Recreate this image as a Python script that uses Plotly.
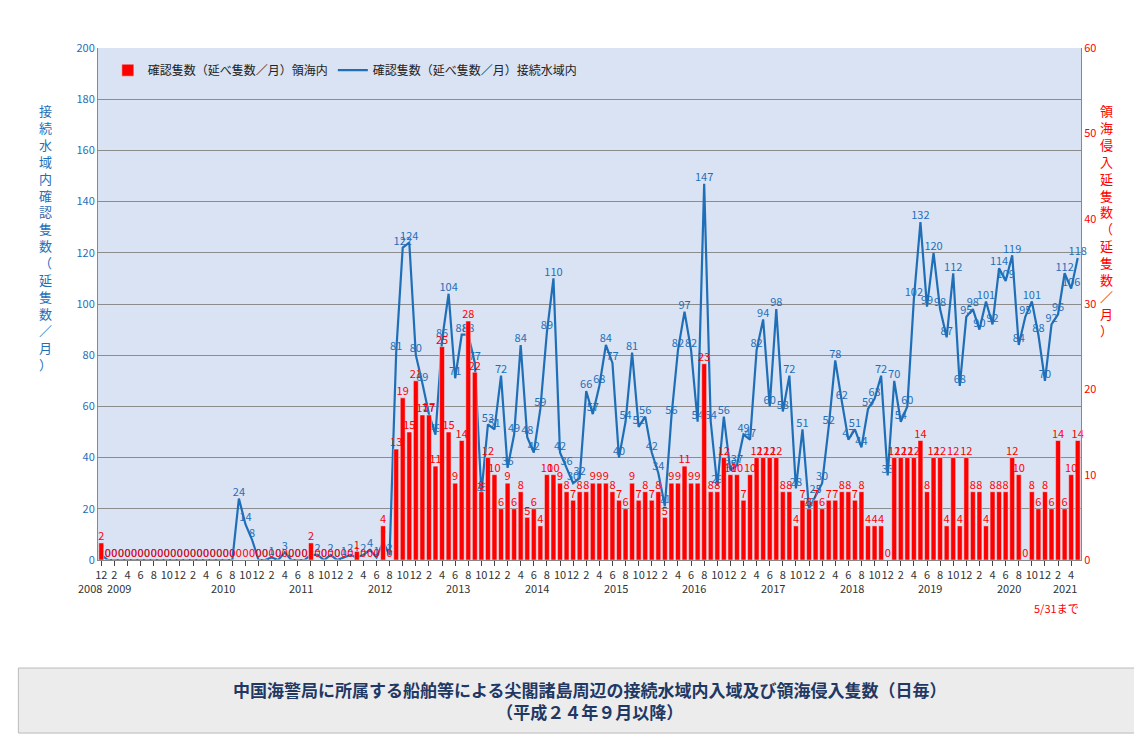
import plotly.graph_objects as go

# months from 2008-12 to 2021-05
years = list(range(2009, 2022))

contig = (
    [2]  # 2008-12
    + [0, 0, 0, 0, 0, 0, 0, 0, 0, 0, 0, 0]  # 2009
    + [0, 0, 0, 0, 0, 0, 0, 0, 24, 14, 8, 0]  # 2010
    + [0, 1, 0, 3, 0, 0, 0, 2, 2, 0, 2, 0]  # 2011
    + [1, 2, 1, 2, 4, 1, 7, 2, 81, 122, 124, 80]  # 2012
    + [69, 57, 49, 86, 104, 71, 88, 88, 77, 26, 53, 51]  # 2013
    + [72, 36, 49, 84, 48, 42, 59, 89, 110, 42, 36, 30]  # 2014
    + [32, 66, 57, 68, 84, 77, 40, 54, 81, 52, 56, 42]  # 2015
    + [34, 21, 56, 82, 97, 82, 54, 147, 54, 29, 56, 35]  # 2016
    + [37, 49, 47, 82, 94, 60, 98, 58, 72, 28, 51, 20]  # 2017
    + [25, 30, 52, 78, 62, 47, 51, 44, 59, 63, 72, 33]  # 2018
    + [70, 54, 60, 102, 132, 99, 120, 98, 87, 112, 68, 95]  # 2019
    + [98, 90, 101, 92, 114, 109, 119, 84, 95, 101, 88, 70]  # 2020
    + [92, 96, 112, 106, 118]  # 2021
)

territ = (
    [2]
    + [0, 0, 0, 0, 0, 0, 0, 0, 0, 0, 0, 0]
    + [0, 0, 0, 0, 0, 0, 0, 0, 0, 0, 0, 0]
    + [0, 0, 0, 0, 0, 0, 0, 2, 0, 0, 0, 0]
    + [0, 0, 1, 0, 0, 0, 4, 0, 13, 19, 15, 21]
    + [17, 17, 11, 25, 15, 9, 14, 28, 22, 8, 12, 10]
    + [6, 9, 6, 8, 5, 6, 4, 10, 10, 9, 8, 7]
    + [8, 8, 9, 9, 9, 8, 7, 6, 9, 7, 8, 7]
    + [8, 5, 9, 9, 11, 9, 9, 23, 8, 8, 12, 10]
    + [10, 7, 10, 12, 12, 12, 12, 8, 8, 4, 7, 6]
    + [7, 6, 7, 7, 8, 8, 7, 8, 4, 4, 4, 0]
    + [12, 12, 12, 12, 14, 8, 12, 12, 4, 12, 4, 12]
    + [8, 8, 4, 8, 8, 8, 12, 10, 0, 8, 6, 8]
    + [6, 14, 6, 10, 14]
)

month_no = [12] + [m for y in years for m in range(1, 13)][: len(contig) - 1]
x = list(range(len(contig)))

blue = "#1f6fb8"
red = "#ff0000"

fig = go.Figure()
fig.add_trace(go.Bar(
    x=x, y=territ, yaxis="y2", name="確認隻数（延べ隻数／月）領海内",
    marker_color=red, width=0.75,
))
# red value labels above the bars
fig.add_trace(go.Scatter(
    x=x, y=territ, yaxis="y2", mode="text", showlegend=False,
    text=[str(v) for v in territ], textposition="top center",
    textfont=dict(color=red, size=11), cliponaxis=False,
))
fig.add_trace(go.Scatter(
    x=x, y=contig, name="確認隻数（延べ隻数／月）接続水域内", mode="lines+text",
    line=dict(color=blue, width=2.2),
    text=[str(v) for v in contig], textposition="top center",
    textfont=dict(color=blue, size=11), cliponaxis=False,
))

tickvals = [i for i in x if i % 2 == 0]
ticktext = [str(month_no[i]) for i in tickvals]

fig.update_layout(
    width=1142, height=734,
    margin=dict(l=90, r=69, t=40, b=182),
    paper_bgcolor="white", plot_bgcolor="#dae3f3",
    font=dict(family="Noto Sans CJK JP, sans-serif", size=11, color="#333"),
    bargap=0.2,
    legend=dict(orientation="h", x=0.01, y=0.985, bgcolor="rgba(0,0,0,0)",
                font=dict(size=12, color="#222")),
    xaxis=dict(range=[-0.5, len(x) - 0.5], tickvals=tickvals, ticktext=ticktext,
               tickangle=0, showgrid=False, showline=True, linecolor="#888",
               ticks="outside", tickfont=dict(size=11, color="#333")),
    yaxis=dict(range=[0, 200], dtick=20, gridcolor="#8c8c8c", gridwidth=1,
               tickfont=dict(color=blue, size=11), showline=True, linecolor="#888",
               zeroline=False),
    yaxis2=dict(range=[0, 60], dtick=10, overlaying="y", side="right",
                showgrid=False, tickfont=dict(color=red, size=11),
                showline=True, linecolor="#888", zeroline=False),
)

# year labels under the month ticks
year_y = -0.035
fig.add_annotation(x=0.4, y=year_y, xref="x", yref="paper", text="2008", xanchor="right",
                   yanchor="top", showarrow=False, font=dict(size=11, color="#333"))
for k, yr in enumerate(years):
    if yr == 2009:
        pos, anchor = 0.6, "left"
    elif yr == 2021:
        pos, anchor = 1 + 12 * k + 2, "center"
    else:
        pos, anchor = 1 + 12 * k + 5.5, "center"
    fig.add_annotation(x=pos, y=year_y, xref="x", yref="paper", text=str(yr), xanchor=anchor,
                       yanchor="top", showarrow=False, font=dict(size=11, color="#333"))

fig.add_annotation(x=1.0, y=-0.075, xref="paper", yref="paper", text="5/31まで",
                   showarrow=False, xanchor="right", yanchor="top", font=dict(size=11, color=red))

left_title = "<br>".join("接続水域内確認隻数（延隻数／月）")
right_title = "<br>".join("領海侵入延隻数（延隻数／月）")
fig.add_annotation(x=-0.062, y=0.9, xref="paper", yref="paper", text=left_title,
                   showarrow=False, yanchor="top", font=dict(size=13, color=blue))
fig.add_annotation(x=1.035, y=0.9, xref="paper", yref="paper", text=right_title,
                   showarrow=False, yanchor="top", font=dict(size=13, color=red))

# caption box
fig.add_shape(type="rect", xref="paper", yref="paper", x0=-0.081, x1=1.058,
              y0=-0.338, y1=-0.211, fillcolor="#ececec", line=dict(color="#bbbbbb", width=1))
fig.add_annotation(x=0.5, y=-0.274, xref="paper", yref="paper", yanchor="middle",
                   text="<b>中国海警局に所属する船舶等による尖閣諸島周辺の接続水域内入域及び領海侵入隻数（日毎）<br>（平成２４年９月以降）</b>",
                   showarrow=False, font=dict(size=17, color="#1f3864"))

fig.write_html("out.html")
